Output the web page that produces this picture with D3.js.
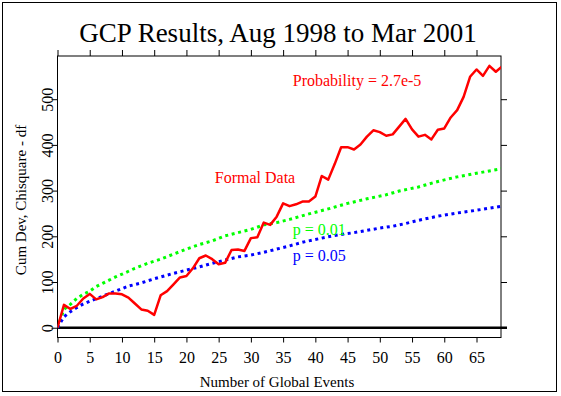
<!DOCTYPE html>
<html><head><meta charset="utf-8">
<script src="https://cdn.jsdelivr.net/npm/d3@7"></script>
<style>
body{margin:0;background:#fff}
svg{display:block}
text{font-family:"Liberation Serif","Times New Roman",Times,serif}
</style>
</head><body>
<svg id="c" width="561" height="396"></svg>
<script>
// ---- data ----
const formalData = [0,50,41,48,64,74,62,67,75,75,73,66,53,40,37,28,71,80,95,110,113,130,152,158,150,139,142,170,171,168,196,198,230,225,243,272,266,270,276,276,287,332,324,358,395,395,390,401,418,432,428,420,423,440,457,434,418,422,412,433,436,460,476,505,549,565,551,573,560,572];
const formalX = d3.range(0, formalData.length);

const p01X = [0,1,2,3,4,5,6,7,8,9,10,12,14,16,18,20,22,24,26,28,30,32,34,36,39,42,45,48,51,53,56,59,62,65,69];
const p01Y = [0,40,51,64,73,80,90,97,104,111,117,130,141,150,161,172,182,190,201,208,215,225,230,237,249,260,272,282,291,299,308,320,330,338,348];

const p05X = [0,1,2,3,4,5,7,9,11,13,15,17,18,20,22,24,26,28,30,32,34,36,38,40,42,44,46,48,50,52,54,56,59,62,65,69];
const p05Y = [0,24,35,44,52,58,69,80,91,98,107,115,119,126,133,141,148,155,159,165,172,179,187,193,199,204,208,213,218,222,228,235,244,251,257,266];

const xTicks = [0,5,10,15,20,25,30,35,40,45,50,55,60,65];
const yTicks = [0,100,200,300,400,500];

const titleText = "GCP Results, Aug 1998 to Mar 2001";
const xLabel = "Number of Global Events";
const yLabel = "Cum Dev, Chisquare - df";
const annotations = [
  {text:"Probability = 2.7e-5", x:36.5, y:528, color:"#ff0000"},
  {text:"Formal Data", x:24.4, y:317, color:"#ff0000"},
  {text:"p = 0.01", x:36.5, y:203, color:"#00ff00"},
  {text:"p = 0.05", x:36.5, y:146, color:"#0000ff"}
];

// ---- layout ----
const svg = d3.select("#c");
const L = 57.5, R = 501, T = 56, B = 337.5;
const x = d3.scaleLinear().domain([0, 68.8]).range([L, R]);
const y = d3.scaleLinear().domain([-21.4, 594.5]).range([B, T]);

// outer border
svg.append("rect").attr("x",2.5).attr("y",2.5).attr("width",554).attr("height",389)
  .attr("fill","none").attr("stroke","#000").attr("stroke-width",1);

// title
svg.append("text").attr("x",278).attr("y",42).attr("text-anchor","middle")
  .attr("font-size",27).attr("fill","#000").text(titleText);

// axes
const fmt = d3.format("d");
const gx = svg.append("g").attr("transform",`translate(0,${B})`)
  .call(d3.axisBottom(x).tickValues(xTicks).tickFormat(fmt).tickSize(5).tickPadding(9));
const gxt = svg.append("g").attr("transform",`translate(0,${T})`)
  .call(d3.axisTop(x).tickValues(xTicks).tickFormat("").tickSize(6));
const gy = svg.append("g").attr("transform",`translate(${L},0)`)
  .call(d3.axisLeft(y).tickValues(yTicks).tickFormat(fmt).tickSize(6));
const gyr = svg.append("g").attr("transform",`translate(${R},0)`)
  .call(d3.axisRight(y).tickValues(yTicks).tickFormat("").tickSize(6));

[gx,gxt,gy,gyr].forEach(g=>{
  g.select(".domain").remove();
  g.selectAll(".tick line").attr("stroke","#000").attr("stroke-width",1);
});
gx.selectAll(".tick text").attr("font-size",16).attr("font-family","Liberation Serif, serif").attr("fill","#000");
// rotated y tick labels
gy.selectAll(".tick text")
  .attr("font-size",16).attr("font-family","Liberation Serif, serif").attr("fill","#000")
  .attr("text-anchor","middle").attr("x",null).attr("dy",null)
  .attr("transform","translate(-4.5,0) rotate(-90)");

// frame
svg.append("rect").attr("x",L).attr("y",T).attr("width",R-L).attr("height",B-T)
  .attr("fill","none").attr("stroke","#000").attr("stroke-width",1);

// axis titles
svg.append("text").attr("x",277).attr("y",387).attr("text-anchor","middle")
  .attr("font-size",15).attr("fill","#000").text(xLabel);
svg.append("text").attr("transform","translate(25.5,200) rotate(-90)").attr("text-anchor","middle")
  .attr("font-size",15).attr("fill","#000").text(yLabel);

// zero line
svg.append("line").attr("x1",L).attr("x2",R+6).attr("y1",y(0)).attr("y2",y(0))
  .attr("stroke","#000").attr("stroke-width",2.5);

// clip
svg.append("clipPath").attr("id","clip").append("rect")
  .attr("x",L).attr("y",T).attr("width",R-L).attr("height",B-T);
const plot = svg.append("g").attr("clip-path","url(#clip)");

const line = d3.line().x(d=>x(d[0])).y(d=>y(d[1]));

plot.append("path").datum(d3.zip(p01X,p01Y)).attr("d",line)
  .attr("fill","none").attr("stroke","#00ff00").attr("stroke-width",3)
  .attr("stroke-dasharray","3 3.6");
plot.append("path").datum(d3.zip(p05X,p05Y)).attr("d",line)
  .attr("fill","none").attr("stroke","#0000ff").attr("stroke-width",3)
  .attr("stroke-dasharray","3 3.6");
plot.append("path").datum(d3.zip(formalX,formalData)).attr("d",line)
  .attr("fill","none").attr("stroke","#ff0000").attr("stroke-width",2.5)
  .attr("stroke-linejoin","round");

// annotations
svg.selectAll("text.ann").data(annotations).join("text").attr("class","ann")
  .attr("x",d=>x(d.x)).attr("y",d=>y(d.y)).attr("text-anchor","start")
  .attr("fill",d=>d.color).attr("font-size",16).text(d=>d.text);
</script>
</body></html>
